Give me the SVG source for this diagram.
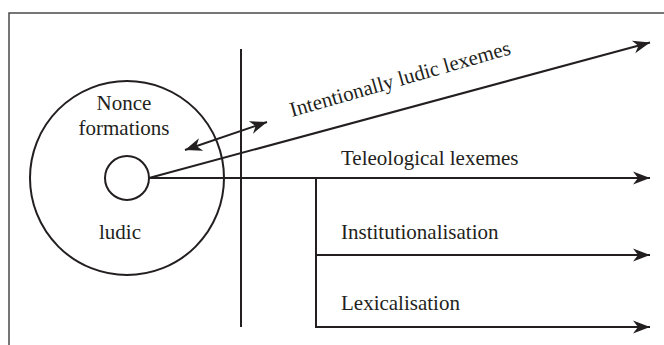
<svg xmlns="http://www.w3.org/2000/svg" width="664" height="345" viewBox="0 0 664 345">
<style>
.ln{stroke:#231f20;stroke-width:2;fill:none}
.t{font-family:"Liberation Serif","Times New Roman",serif;font-size:21px;fill:#231f20}
</style>
<defs>
<marker id="ah" viewBox="-18 -8 19 16" refX="0" refY="0" markerWidth="19" markerHeight="16" orient="auto-start-reverse" markerUnits="userSpaceOnUse">
<path d="M0,0 L-17,-6.5 L-12,0 L-17,6.5 Z" fill="#231f20"/>
</marker>
</defs>
<rect width="664" height="345" fill="#fff"/>
<g id="frame">
<path d="M9,345 V13 H664" stroke="#4a4a4a" stroke-width="1.5" fill="none"/>
</g>
<g id="nonce">
<circle cx="127" cy="178" r="97" class="ln"/>
<text class="t" x="124" y="110" text-anchor="middle">Nonce</text>
<text class="t" x="124" y="135" text-anchor="middle">formations</text>
<text class="t" x="120" y="239" text-anchor="middle">ludic</text>
</g>
<g id="core">
<circle cx="127" cy="178" r="22" class="ln"/>
</g>
<g id="divider">
<line x1="241" y1="49" x2="241" y2="327" class="ln"/>
</g>
<g id="connectors">
<line x1="149" y1="178" x2="650" y2="42.5" class="ln" marker-end="url(#ah)"/>
<line x1="149" y1="178" x2="650" y2="178" class="ln" marker-end="url(#ah)"/>
<line x1="185" y1="150" x2="267" y2="122" class="ln" marker-start="url(#ah)" marker-end="url(#ah)"/>
<path d="M316,178 V327 H650" class="ln" marker-end="url(#ah)"/>
<line x1="316" y1="255" x2="650" y2="255" class="ln" marker-end="url(#ah)"/>
</g>
<g id="labels">
<text class="t" transform="translate(292,117) rotate(-16)">Intentionally ludic lexemes</text>
<text class="t" x="341" y="165">Teleological lexemes</text>
<text class="t" x="341" y="239">Institutionalisation</text>
<text class="t" x="341" y="310">Lexicalisation</text>
</g>
</svg>
